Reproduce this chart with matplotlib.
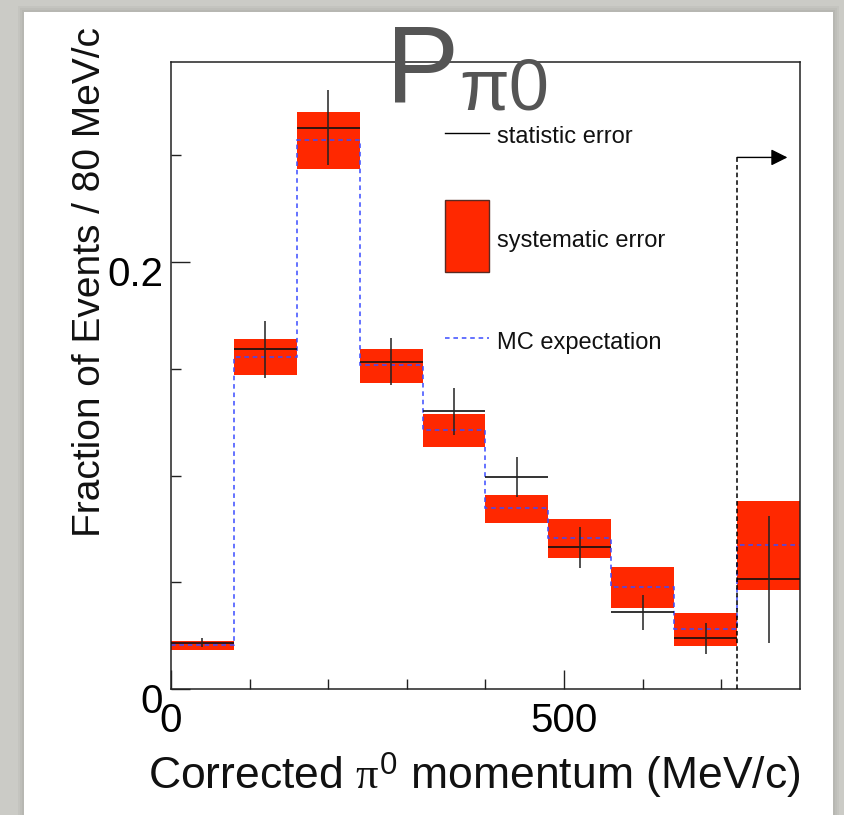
import matplotlib
matplotlib.use("Agg")
import matplotlib.pyplot as plt
from matplotlib.patches import Rectangle
from matplotlib.lines import Line2D
from matplotlib.transforms import ScaledTranslation
import numpy as np

plt.rcParams['font.family'] = ['Liberation Sans', 'DejaVu Sans']
plt.rcParams['mathtext.fontset'] = 'custom'
plt.rcParams['mathtext.rm'] = 'Liberation Sans'
plt.rcParams['mathtext.it'] = 'Liberation Serif'

# bins of 80 MeV/c
edges = [0, 80, 160, 240, 320, 400, 480, 560, 640, 720, 800]
data = [0.0217, 0.1591, 0.2629, 0.1533, 0.1302, 0.0993, 0.0665, 0.0359, 0.0237, 0.0514]
stat_err = [0.0020, 0.0135, 0.0175, 0.0110, 0.0110, 0.0095, 0.0096, 0.0082, 0.0074, 0.0298]
sys_lo = [0.0183, 0.1472, 0.2437, 0.1433, 0.1135, 0.0779, 0.0615, 0.0379, 0.0203, 0.0464]
sys_hi = [0.0225, 0.1639, 0.2703, 0.1593, 0.1288, 0.0909, 0.0796, 0.0571, 0.0356, 0.0881]
mc = [0.0206, 0.1554, 0.2570, 0.1516, 0.1213, 0.0846, 0.0706, 0.0478, 0.0281, 0.0674]

cut = 720
cut_top = 0.249
arrow_end = 784

W, H = 845, 815
fig = plt.figure(figsize=(W / 100, H / 100), dpi=100, facecolor='#cbcbc6')

# slide card with a soft shadow
for i, a in enumerate([0.10, 0.10, 0.12]):
    o = (3 - i) * 2
    fig.patches.append(Rectangle(((24 - o) / W, 0), (833 - 24 + 2 * o) / W, 1 - (12 - o) / H,
                                 transform=fig.transFigure, facecolor='#8a8a86', alpha=a,
                                 edgecolor='none', zorder=-2))
fig.patches.append(Rectangle((24 / W, 0), (833 - 24) / W, 1 - 12 / H, transform=fig.transFigure,
                             facecolor='white', edgecolor='none', zorder=-1))

ax = fig.add_axes([171 / W, 1 - 689 / H, (800 - 171) / W, (689 - 62) / H])
ax.set_facecolor('white')
ax.set_zorder(1)

edges = np.array(edges)
centers = (edges[:-1] + edges[1:]) / 2
widths = np.diff(edges)
data = np.array(data)
stat_err = np.array(stat_err)
sys_lo = np.array(sys_lo)
sys_hi = np.array(sys_hi)

ax.bar(centers, sys_hi - sys_lo, bottom=sys_lo, width=widths, color='#ff2800',
       edgecolor='none', zorder=1)
ax.stairs(mc, edges, baseline=None, color='#3a4cff', lw=1.1, linestyle=(0, (3, 2.5)), zorder=2)
ax.hlines(data, edges[:-1], edges[1:], color='#111111', lw=1.2, zorder=3)
ax.vlines(centers, data - stat_err, data + stat_err, color='#222222', lw=1.1, zorder=3)

# cut line with arrow
ax.vlines(cut, 0, cut_top, color='black', lw=1.1, linestyle=(0, (3, 2)), zorder=3)
ax.annotate('', xy=(arrow_end, cut_top), xytext=(cut, cut_top),
            arrowprops=dict(arrowstyle='-|>', color='black', lw=1, mutation_scale=25,
                            shrinkA=0, shrinkB=0))

ax.set_xlim(0, 800)
ax.set_ylim(0, 0.2937)

ax.set_xticks([0, 500])
ax.set_xticklabels(['0', '500'])
ax.set_xticks([100, 200, 300, 400, 600, 700], minor=True)
ax.set_yticks([0, 0.2])
ax.set_yticklabels(['0', '0.2'])
ax.set_yticks([0.05, 0.1, 0.15, 0.25], minor=True)
ax.tick_params(which='both', direction='in', top=False, right=False, color='#222222', width=1)
ax.tick_params(which='major', length=13.5, labelsize=29)
ax.tick_params(which='minor', length=7)
ax.tick_params(axis='x', which='major', pad=9)
ax.tick_params(axis='y', which='major', pad=5.5)
off = ScaledTranslation(0, -0.09, fig.dpi_scale_trans)
for t in ax.yaxis.get_major_ticks():
    t.label1.set_transform(t.label1.get_transform() + off)

for s in ax.spines.values():
    s.set_linewidth(1.1)
    s.set_color('#222222')

# legend drawn by hand, ROOT style
ax.add_line(Line2D([0.4356, 0.5051], [0.8864, 0.8864], transform=ax.transAxes,
                   color='black', lw=1))
ax.add_patch(Rectangle((0.4356, 0.6656), 0.5051 - 0.4356, 0.7799 - 0.6656,
                       transform=ax.transAxes, facecolor='#ff2800', edgecolor='#5a2a22', lw=1))
ax.add_line(Line2D([0.4356, 0.5051], [0.5593, 0.5593], transform=ax.transAxes,
                   color='#3a4cff', lw=1.1, linestyle=(0, (3, 2.5))))
ax.text(0.519, 0.8704, 'statistic error', transform=ax.transAxes, fontsize=17,
        va='baseline', ha='left', color='#111111')
ax.text(0.519, 0.7054, 'systematic error', transform=ax.transAxes, fontsize=17,
        va='baseline', ha='left', color='#111111')
ax.text(0.519, 0.5418, 'MC expectation', transform=ax.transAxes, fontsize=17,
        va='baseline', ha='left', color='#111111')

# title
fig.text(386 / W, 1 - 102 / H, 'P', fontsize=79, color='#555555', ha='left', va='baseline',
         zorder=5)
fig.text(459 / W, 1 - 110 / H, '\u03c00', fontsize=52, color='#555555', ha='left',
         va='baseline', zorder=5)

# axis titles
fig.text(800 / W, 1 - 789 / H, r'Corrected $\pi^{\mathrm{0}}$ momentum (MeV/c)', fontsize=32,
         ha='right', va='baseline', color='#111111')
fig.text(100 / W, 1 - 27 / H, 'Fraction of Events / 80 MeV/c', fontsize=28, rotation=90,
         rotation_mode='anchor', ha='right', va='baseline', color='#111111')

fig.savefig('out.png', dpi=100, facecolor=fig.get_facecolor())
